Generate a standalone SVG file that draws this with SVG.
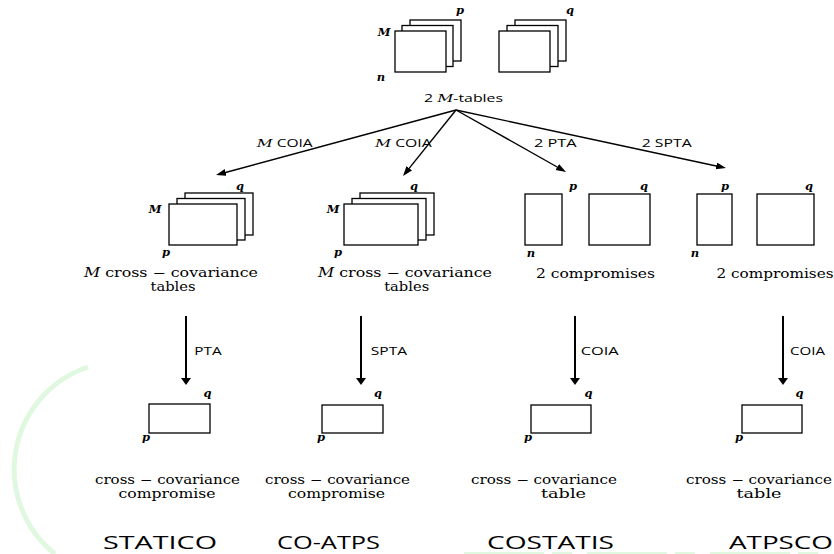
<svg xmlns="http://www.w3.org/2000/svg" width="834" height="554" viewBox="0 0 834 554">
<defs>
<marker id="ah" markerUnits="userSpaceOnUse" markerWidth="12" markerHeight="10" refX="6" refY="3.5" orient="auto"><path d="M0,0 L10,3.5 L0,7 z" fill="#000"/></marker>
<marker id="ahv" markerUnits="userSpaceOnUse" markerWidth="10" markerHeight="12" refX="4" refY="5" orient="auto"><path d="M0,0 L7,5 L0,10 z" fill="#000"/></marker>
</defs>
<style>
.box{fill:#fff;stroke:#000;stroke-width:1.3}
.var{font-family:"DejaVu Serif",serif;font-style:italic;font-weight:bold;font-size:11.5px;text-anchor:middle;fill:#000}
.lbl{font-family:"DejaVu Serif",serif;font-size:12.5px;text-anchor:middle;fill:#000}
.lbs{font-family:"DejaVu Serif",serif;font-size:12px;text-anchor:middle;fill:#000}
.op{font-family:"Open Sans","DejaVu Sans",sans-serif;font-size:11px;text-anchor:middle;fill:#000}
.mi{font-family:"DejaVu Serif",serif;font-style:italic}
.ttl{font-family:"Open Sans","DejaVu Sans",sans-serif;font-size:19px;text-anchor:middle;fill:#000}
.arr{stroke:#000;stroke-width:1.4;fill:none;marker-end:url(#ah)}
.varr{stroke:#000;stroke-width:2;fill:none;marker-end:url(#ahv)}
.deco{fill:none;stroke:#e0f8e0}
</style>
<rect width="834" height="554" fill="#fff"/>
<g id="decoration">
<path class="deco" d="M88,367 A108,108 0 0 0 55,554" stroke-width="5"/>
<path class="deco" d="M464,553 H827" stroke-width="2" stroke-dasharray="80,8,20,15"/>
</g>
<g id="connectors">
<line class="arr" x1="456" y1="110" x2="219.9" y2="174"/>
<line class="arr" x1="456" y1="110" x2="405.5" y2="172.9"/>
<line class="arr" x1="456" y1="110" x2="562.5" y2="170"/>
<line class="arr" x1="456" y1="110" x2="722.1" y2="167.2"/>
<line class="varr" x1="186" y1="316" x2="186" y2="382"/>
<line class="varr" x1="361" y1="316" x2="361" y2="382"/>
<line class="varr" x1="575" y1="316" x2="575" y2="382"/>
<line class="varr" x1="783" y1="316" x2="783" y2="382"/>
<text class="op" x="284.7" y="147" textLength="56" lengthAdjust="spacingAndGlyphs"><tspan class="mi">M</tspan> COIA</text>
<text class="op" x="403.3" y="147" textLength="56.7" lengthAdjust="spacingAndGlyphs"><tspan class="mi">M</tspan> COIA</text>
<text class="op" x="555.3" y="147" textLength="42.7" lengthAdjust="spacingAndGlyphs">2 PTA</text>
<text class="op" x="666.7" y="147" textLength="50" lengthAdjust="spacingAndGlyphs">2 SPTA</text>
<text class="op" x="208" y="355" textLength="27.4" lengthAdjust="spacingAndGlyphs">PTA</text>
<text class="op" x="389" y="355" textLength="36.3" lengthAdjust="spacingAndGlyphs">SPTA</text>
<text class="op" x="599.7" y="355" textLength="38" lengthAdjust="spacingAndGlyphs">COIA</text>
<text class="op" x="807.5" y="355" textLength="35" lengthAdjust="spacingAndGlyphs">COIA</text>
</g>
<g id="input-tables">
<rect class="box" x="410" y="20" width="51" height="41"/>
<rect class="box" x="402" y="25.5" width="51" height="41"/>
<rect class="box" x="395" y="31" width="51" height="41"/>
<rect class="box" x="515" y="20" width="51" height="41"/>
<rect class="box" x="507" y="25.5" width="51" height="41"/>
<rect class="box" x="499" y="31" width="51" height="41"/>
<text class="var" x="460" y="14">p</text>
<text class="var" x="570" y="14">q</text>
<text class="var" x="384" y="36">M</text>
<text class="var" x="381" y="81">n</text>
<text class="op" x="463.5" y="102" textLength="79" lengthAdjust="spacingAndGlyphs">2 <tspan class="mi">M</tspan>-tables</text>
</g>
<g id="statico-step1">
<rect class="box" x="185" y="193" width="68" height="42"/>
<rect class="box" x="177" y="198.5" width="68" height="41.5"/>
<rect class="box" x="169" y="204" width="68" height="41"/>
<text class="var" x="240" y="190">q</text>
<text class="var" x="155" y="213">M</text>
<text class="var" x="166" y="256">p</text>
<text class="lbs" x="171" y="277" textLength="174" lengthAdjust="spacingAndGlyphs"><tspan class="mi">M</tspan> cross − covariance</text>
<text class="lbs" x="173" y="291" textLength="45" lengthAdjust="spacingAndGlyphs">tables</text>
</g>
<g id="coatps-step1">
<rect class="box" x="360" y="193" width="74" height="42"/>
<rect class="box" x="352" y="198.5" width="74" height="41.5"/>
<rect class="box" x="344" y="204" width="74" height="41"/>
<text class="var" x="414" y="190">q</text>
<text class="var" x="333" y="213">M</text>
<text class="var" x="338" y="256">p</text>
<text class="lbs" x="405" y="277" textLength="174" lengthAdjust="spacingAndGlyphs"><tspan class="mi">M</tspan> cross − covariance</text>
<text class="lbs" x="406.7" y="291" textLength="45" lengthAdjust="spacingAndGlyphs">tables</text>
</g>
<g id="costatis-step1">
<rect class="box" x="525" y="194" width="37" height="51"/>
<rect class="box" x="589" y="194" width="61" height="51"/>
<text class="var" x="573" y="190">p</text>
<text class="var" x="644" y="190">q</text>
<text class="var" x="531" y="257">n</text>
<text class="lbl" x="595.5" y="278" textLength="119" lengthAdjust="spacingAndGlyphs">2 compromises</text>
</g>
<g id="atpsco-step1">
<rect class="box" x="697" y="194" width="35" height="51"/>
<rect class="box" x="757" y="194" width="57" height="51"/>
<text class="var" x="725" y="190">p</text>
<text class="var" x="809" y="190">q</text>
<text class="var" x="695" y="257">n</text>
<text class="lbl" x="775" y="278" textLength="117" lengthAdjust="spacingAndGlyphs">2 compromises</text>
</g>
<g id="statico-result">
<rect class="box" x="149" y="404" width="61" height="29"/>
<text class="var" x="207.5" y="397">q</text>
<text class="var" x="146" y="441">p</text>
<text class="lbs" x="167.5" y="484" textLength="145" lengthAdjust="spacingAndGlyphs">cross − covariance</text>
<text class="lbs" x="167" y="498" textLength="97" lengthAdjust="spacingAndGlyphs">compromise</text>
<text class="ttl" x="160" y="549" textLength="114" lengthAdjust="spacingAndGlyphs">STATICO</text>
</g>
<g id="coatps-result">
<rect class="box" x="322" y="405" width="61" height="28"/>
<text class="var" x="378" y="397">q</text>
<text class="var" x="321" y="441">p</text>
<text class="lbs" x="337.5" y="484" textLength="145" lengthAdjust="spacingAndGlyphs">cross − covariance</text>
<text class="lbs" x="336.5" y="498" textLength="97" lengthAdjust="spacingAndGlyphs">compromise</text>
<text class="ttl" x="328.5" y="549" textLength="103" lengthAdjust="spacingAndGlyphs">CO-ATPS</text>
</g>
<g id="costatis-result">
<rect class="box" x="531" y="405" width="60" height="28"/>
<text class="var" x="588.5" y="397">q</text>
<text class="var" x="528" y="441">p</text>
<text class="lbs" x="544" y="484" textLength="146" lengthAdjust="spacingAndGlyphs">cross − covariance</text>
<text class="lbs" x="563.5" y="498" textLength="45" lengthAdjust="spacingAndGlyphs">table</text>
<text class="ttl" x="550.5" y="549" textLength="127" lengthAdjust="spacingAndGlyphs">COSTATIS</text>
</g>
<g id="atpsco-result">
<rect class="box" x="742" y="405" width="60" height="28"/>
<text class="var" x="799.5" y="397">q</text>
<text class="var" x="739" y="441">p</text>
<text class="lbs" x="759" y="484" textLength="146" lengthAdjust="spacingAndGlyphs">cross − covariance</text>
<text class="lbs" x="759" y="498" textLength="45" lengthAdjust="spacingAndGlyphs">table</text>
<text class="ttl" x="781" y="549" textLength="104" lengthAdjust="spacingAndGlyphs">ATPSCO</text>
</g>
</svg>
